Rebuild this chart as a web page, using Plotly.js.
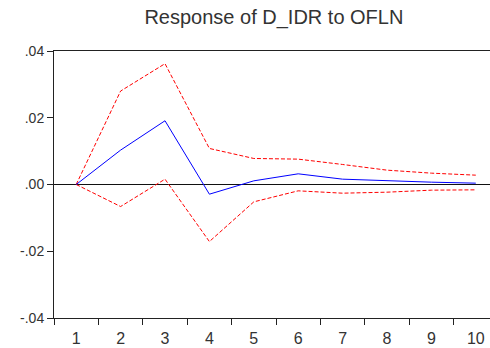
<!DOCTYPE html>
<html>
<head>
<meta charset="utf-8">
<script src="https://cdn.plot.ly/plotly-3.0.1.min.js"></script>
<style>html,body{margin:0;padding:0;background:#fff;}#chart{width:490px;height:348px;}</style>
</head>
<body>
<div id="chart"></div>
<script>
var periods = [1, 2, 3, 4, 5, 6, 7, 8, 9, 10];
var response = [0, 0.0103, 0.0191, -0.0029, 0.0011, 0.0032, 0.0016, 0.0011, 0.0007, 0.0004];
var upperBand = [0, 0.0280, 0.0362, 0.0108, 0.0078, 0.0076, 0.0060, 0.0043, 0.0034, 0.0028];
var lowerBand = [0, -0.0066, 0.0016, -0.0171, -0.0052, -0.0019, -0.0026, -0.0023, -0.0017, -0.0016];
var yTickVals = [-0.04, -0.02, 0, 0.02, 0.04];
var yTickText = ['-.04', '-.02', '.00', '.02', '.04'];
var boundaryTicks = [0.5, 1.5, 2.5, 3.5, 4.5, 5.5, 6.5, 7.5, 8.5, 9.5, 10.5];

var font = 'Liberation Sans, Arial, sans-serif';
var xr = [0.5, 10.32];

var traces = [
  {x: periods, y: upperBand, type: 'scatter', mode: 'lines',
   line: {color: '#ff0000', width: 1, dash: '4px,2px'}, hoverinfo: 'skip'},
  {x: periods, y: lowerBand, type: 'scatter', mode: 'lines',
   line: {color: '#ff0000', width: 1, dash: '4px,2px'}, hoverinfo: 'skip'},
  {x: periods, y: response, type: 'scatter', mode: 'lines',
   line: {color: '#0000ff', width: 1}, hoverinfo: 'skip'},
  {x: [], y: [], xaxis: 'x2', yaxis: 'y', type: 'scatter', showlegend: false}
];

var layout = {
  width: 490, height: 348,
  margin: {l: 54, r: 0, t: 51, b: 30, pad: 0},
  paper_bgcolor: '#fff', plot_bgcolor: '#fff',
  showlegend: false,
  title: {text: 'Response of D_IDR to OFLN', font: {family: font, size: 20, color: '#333'},
          x: 0.559, xanchor: 'center', xref: 'container', y: 0.95, yanchor: 'middle', yref: 'container'},
  xaxis: {range: xr, tickvals: periods, ticktext: periods.map(String), ticks: '',
          showgrid: false, zeroline: false, showline: true, linecolor: '#222', linewidth: 1,
          mirror: true, ticklabelstandoff: 6,
          tickfont: {family: font, size: 16, color: '#333'}},
  xaxis2: {range: xr, overlaying: 'x', anchor: 'y', side: 'bottom', tickvals: boundaryTicks,
           ticks: 'outside', ticklen: 6, tickcolor: '#222', tickwidth: 1,
           showticklabels: false, showgrid: false, zeroline: false, showline: false},
  yaxis: {range: [-0.04, 0.04], tickvals: yTickVals, ticktext: yTickText,
          ticks: 'outside', ticklen: 6, tickcolor: '#222', tickwidth: 1,
          showgrid: false, showline: true, linecolor: '#222', linewidth: 1,
          zeroline: true, zerolinecolor: '#111', zerolinewidth: 1,
          tickfont: {family: font, size: 14, color: '#333'}}
};

Plotly.newPlot('chart', traces, layout, {staticPlot: true, displayModeBar: false});
</script>
</body>
</html>
